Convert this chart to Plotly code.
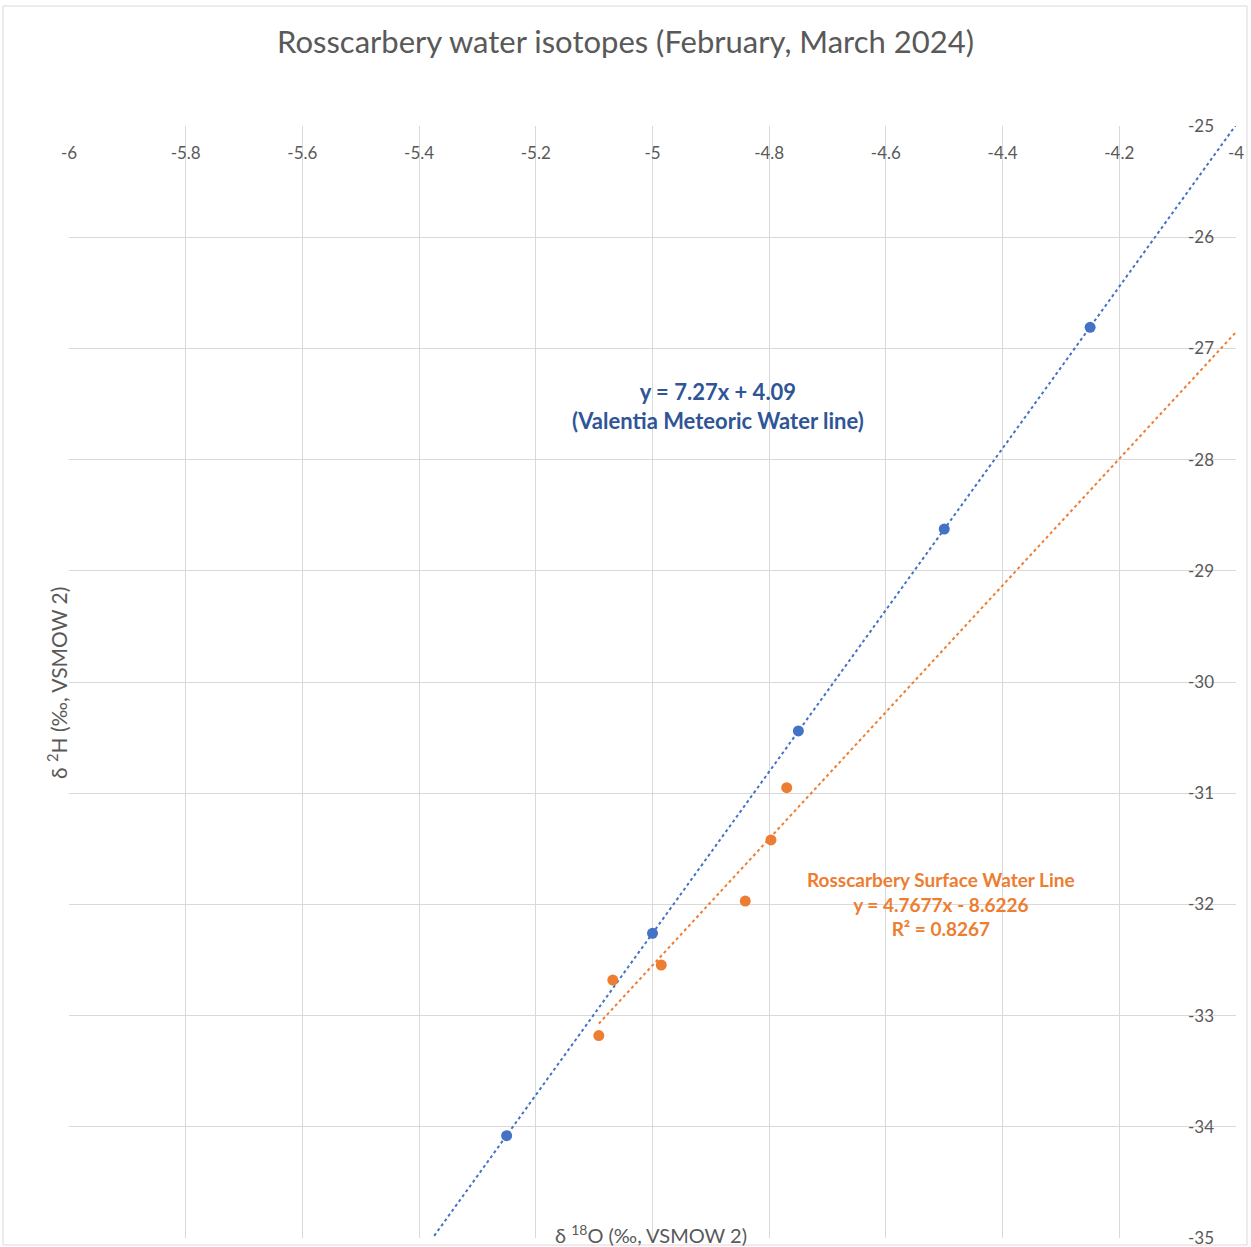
import numpy as np
import plotly.graph_objects as go

# Valentia meteoric water samples
valentia_o18 = [-5.25, -5.0, -4.75, -4.5, -4.25]
valentia_h2 = [-34.08, -32.26, -30.44, -28.625, -26.81]

# Rosscarbery surface water samples
ross_o18 = [-5.068, -4.985, -5.092, -4.841, -4.797, -4.770]
ross_h2 = [-32.68, -32.545, -33.18, -31.97, -31.42, -30.95]

x_ticks = [-6, -5.8, -5.6, -5.4, -5.2, -5, -4.8, -4.6, -4.4, -4.2, -4]
y_ticks = [-25, -26, -27, -28, -29, -30, -31, -32, -33, -34, -35]

BLUE = "#4472C4"
ORANGE = "#ED7D31"
GREY = "#595959"
FONT = "Lato"

W, H = 1251, 1247
ML, MR, MT, MB = 69, 15, 126, 9

# trendlines from a least squares fit
b_slope, b_int = np.polyfit(valentia_o18, valentia_h2, 1)
o_slope, o_int = np.polyfit(ross_o18, ross_h2, 1)
bx = np.array([x_ticks[0], x_ticks[-1]])
ox = np.array([min(ross_o18), x_ticks[-1]])

fig = go.Figure()
fig.add_trace(go.Scatter(x=bx, y=b_slope * bx + b_int, mode="lines",
                         line=dict(color=BLUE, width=2, dash="dot"),
                         hoverinfo="skip", showlegend=False))
fig.add_trace(go.Scatter(x=ox, y=o_slope * ox + o_int, mode="lines",
                         line=dict(color=ORANGE, width=2, dash="dot"),
                         hoverinfo="skip", showlegend=False))
fig.add_trace(go.Scatter(x=valentia_o18, y=valentia_h2, mode="markers",
                         marker=dict(color=BLUE, size=11),
                         name="Valentia", showlegend=False))
fig.add_trace(go.Scatter(x=ross_o18, y=ross_h2, mode="markers",
                         marker=dict(color=ORANGE, size=11),
                         name="Rosscarbery", showlegend=False))

pw = W - ML - MR
ph = H - MT - MB


def px_x(p):
    return (p - ML) / pw


def px_y(p):
    return (H - MB - p) / ph


fig.update_layout(
    width=W, height=H,
    margin=dict(l=ML, r=MR, t=MT, b=MB, autoexpand=False),
    paper_bgcolor="white", plot_bgcolor="white",
    font=dict(family=FONT, color=GREY),
    title=dict(text="Rosscarbery water isotopes (February, March 2024)",
               x=0.5, xref="container", xanchor="center",
               y=1 - 42 / H, yanchor="middle",
               font=dict(size=31, color=GREY, family=FONT)),
    xaxis=dict(range=[-6, -4], side="top", tickvals=x_ticks,
               ticktext=[f"{v:g}" for v in x_ticks],
               ticklabelposition="inside", ticklabeloverflow="allow",
               ticklabelstandoff=18, ticks="", automargin=False,
               showgrid=True, gridcolor="#d9d9d9", gridwidth=1,
               zeroline=False, showline=False,
               tickfont=dict(size=17, color=GREY)),
    yaxis=dict(range=[-35, -25], side="right", tickvals=y_ticks,
               ticktext=[f"{v:g}" for v in y_ticks],
               ticklabelposition="inside", ticklabeloverflow="allow",
               ticklabelstandoff=19, ticks="", automargin=False,
               showgrid=True, gridcolor="#d9d9d9", gridwidth=1,
               zeroline=False, showline=False,
               tickfont=dict(size=17, color=GREY)),
    shapes=[dict(type="rect", xref="paper", yref="paper",
                 x0=px_x(3), x1=px_x(1247), y0=px_y(1245), y1=px_y(6),
                 line=dict(color="#d9d9d9", width=1), layer="below")],
    annotations=[
        dict(text="δ <sup>18</sup>O (‰, VSMOW 2)", xref="paper", yref="paper",
             x=px_x(651), y=px_y(1234), xanchor="center", yanchor="middle",
             showarrow=False, font=dict(size=20, color=GREY)),
        dict(text="δ <sup>2</sup>H (‰, VSMOW 2)", xref="paper", yref="paper",
             x=px_x(57), y=px_y(683), xanchor="center", yanchor="middle",
             textangle=-90, showarrow=False, font=dict(size=21, color=GREY)),
        dict(text="<b>y = 7.27x + 4.09<br>(Valentia Meteoric Water line)</b>",
             xref="paper", yref="paper", x=px_x(718), y=px_y(406),
             xanchor="center", yanchor="middle", showarrow=False,
             font=dict(size=22, color="#2F5597")),
        dict(text="<b>Rosscarbery Surface Water Line<br>y = 4.7677x - 8.6226<br>R² = 0.8267</b>",
             xref="paper", yref="paper", x=px_x(941), y=px_y(904),
             xanchor="center", yanchor="middle", showarrow=False,
             font=dict(size=19, color=ORANGE)),
    ],
)

fig.write_html("out.html", config={"displayModeBar": False},
               post_script="document.body.style.margin='0';")
